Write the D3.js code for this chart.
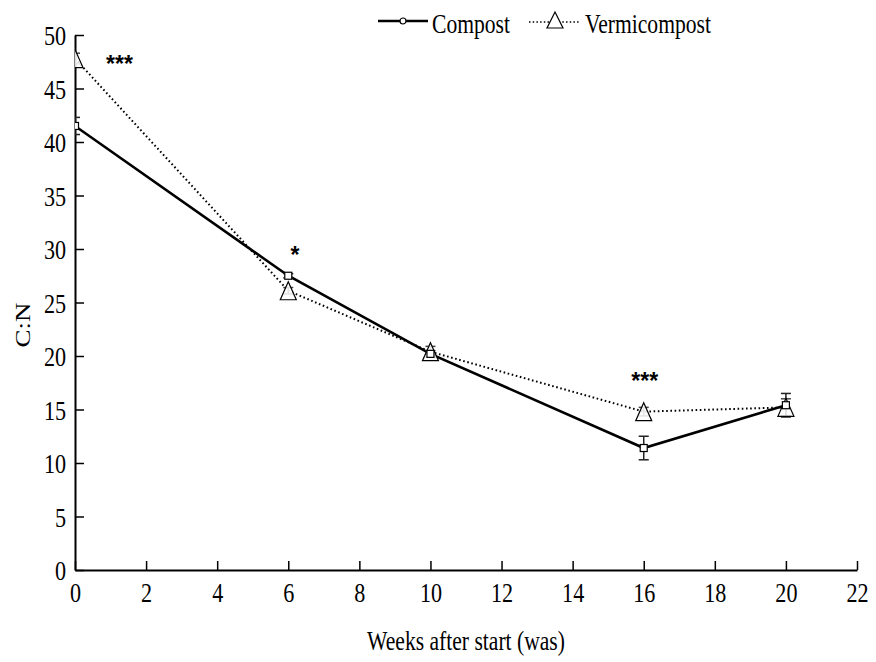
<!DOCTYPE html>
<html>
<head>
<meta charset="utf-8">
<script src="https://cdn.jsdelivr.net/npm/d3@7"></script>
<style>
  html, body { margin: 0; padding: 0; background: #fff; }
  svg { display: block; }
</style>
</head>
<body>
<svg id="chart" width="876" height="662"></svg>
<script>
// C:N ratio over time for two composting treatments
const weeks = [0, 6, 10, 16, 20];
const compost = [41.5, 27.5, 20.2, 11.4, 15.4];
const compostErr = [0.8, 0.2, 0.3, 1.1, 1.1];
const vermicompost = [47.8, 26.1, 20.4, 14.8, 15.2];
const vermicompostErr = [0.5, 0.3, 0.5, 0.4, 0.8];
const xTicks = [0, 2, 4, 6, 8, 10, 12, 14, 16, 18, 20, 22];
const yTicks = [0, 5, 10, 15, 20, 25, 30, 35, 40, 45, 50];
// significance marks: position (week, value) and label
const sigWeeks = [1.25, 6.19, 16.03];
const sigValues = [46.5, 28.7, 16.9];
const sigLabels = ["***", "*", "***"];

const svg = d3.select("#chart");
const plotLeft = 75, plotRight = 857, plotTop = 35, plotBottom = 570;
const font = "'Liberation Serif', 'Times New Roman', serif";
const squeeze = 0.79;
const tickFont = 28;

const x = d3.scaleLinear().domain([0, 22]).range([plotLeft, plotRight]);
const y = d3.scaleLinear().domain([0, 50]).range([plotBottom, plotTop]);

svg.append("defs").append("clipPath").attr("id", "plot")
  .append("rect").attr("x", plotLeft).attr("y", plotTop - 20)
  .attr("width", plotRight - plotLeft + 20).attr("height", plotBottom - plotTop + 20);

// axes with inward ticks
const xAxis = svg.append("g").attr("transform", `translate(0,${plotBottom})`)
  .call(d3.axisBottom(x).tickValues(xTicks).tickSizeInner(-9).tickSizeOuter(0).tickPadding(12));
const yAxis = svg.append("g").attr("transform", `translate(${plotLeft},0)`)
  .call(d3.axisLeft(y).tickValues(yTicks).tickSizeInner(-9).tickSizeOuter(0).tickPadding(9));

[xAxis, yAxis].forEach(g => {
  g.select(".domain").attr("stroke", "#000").attr("stroke-width", 2);
  g.selectAll(".tick line").attr("stroke", "#000").attr("stroke-width", 1.5);
  g.selectAll(".tick text").attr("fill", "#000")
    .style("font-family", font).style("font-size", tickFont + "px");
});
xAxis.selectAll(".tick text").attr("dy", "0.71em").attr("transform", `scale(${squeeze},1)`);
yAxis.selectAll(".tick text").attr("x", -9 / squeeze).attr("dy", "0.34em")
  .attr("transform", `scale(${squeeze},1)`);

// axis titles
svg.append("text").attr("transform", `translate(466,650) scale(0.8,1)`)
  .attr("text-anchor", "middle").style("font-family", font).style("font-size", "27px")
  .text("Weeks after start (was)");
svg.append("text").attr("transform", `translate(30,325) rotate(-90) scale(1,0.8)`)
  .attr("text-anchor", "middle").style("font-family", font).style("font-size", "27px")
  .text("C:N");

const plot = svg.append("g").attr("clip-path", "url(#plot)");

const line = d3.line().x((d, i) => x(weeks[i])).y(d => y(d));

// lines
plot.append("path").datum(vermicompost).attr("d", line)
  .attr("fill", "none").attr("stroke", "#000").attr("stroke-width", 2)
  .attr("stroke-dasharray", "1.6,2.6");
plot.append("path").datum(compost).attr("d", line)
  .attr("fill", "none").attr("stroke", "#000").attr("stroke-width", 2.6);

// error bars
function errorBars(vals, errs, color) {
  const g = plot.append("g").attr("stroke", color).attr("stroke-width", 1.5);
  vals.forEach((v, i) => {
    const cx = x(weeks[i]);
    g.append("line").attr("x1", cx).attr("x2", cx).attr("y1", y(v - errs[i])).attr("y2", y(v + errs[i]));
    [v - errs[i], v + errs[i]].forEach(e => {
      g.append("line").attr("x1", cx - 5).attr("x2", cx + 5).attr("y1", y(e)).attr("y2", y(e));
    });
  });
}
errorBars(vermicompost, vermicompostErr, "#444");
errorBars(compost, compostErr, "#222");

// tall open triangle marker (width w, height h, centred)
function tallTriangle(w, h) {
  return {
    draw(ctx) {
      ctx.moveTo(0, -h / 2);
      ctx.lineTo(w / 2, h / 2);
      ctx.lineTo(-w / 2, h / 2);
      ctx.closePath();
    }
  };
}

// markers
const tri = d3.symbol().type(tallTriangle(16, 18));
plot.selectAll(".vtri").data(vermicompost).enter().append("path")
  .attr("transform", (d, i) => `translate(${x(weeks[i])},${y(d)})`)
  .attr("d", tri).attr("fill", "#fff").attr("fill-opacity", 0.85)
  .attr("stroke", "#000").attr("stroke-width", 1.2);
plot.selectAll(".csq").data(compost).enter().append("rect")
  .attr("x", (d, i) => x(weeks[i]) - 3.5).attr("y", d => y(d) - 3.5)
  .attr("width", 7).attr("height", 7)
  .attr("fill", "#fff").attr("stroke", "#000").attr("stroke-width", 1.2);

// significance stars
svg.selectAll(".sig").data(sigLabels).enter().append("text")
  .attr("x", (d, i) => x(sigWeeks[i])).attr("y", (d, i) => y(sigValues[i]))
  .attr("text-anchor", "middle")
  .style("font-family", "'Liberation Sans', Arial, sans-serif")
  .style("font-size", "23px").style("font-weight", "bold")
  .text(d => d);

// legend
const lg = svg.append("g").attr("transform", "translate(378,21)");
lg.append("line").attr("x1", 0).attr("x2", 50).attr("y1", 0).attr("y2", 0)
  .attr("stroke", "#000").attr("stroke-width", 2.4);
lg.append("circle").attr("cx", 25).attr("cy", 0).attr("r", 3)
  .attr("fill", "#fff").attr("stroke", "#000").attr("stroke-width", 1.2);
lg.append("text").attr("transform", `translate(54,12) scale(0.8,1)`)
  .style("font-family", font).style("font-size", "27px").text("Compost");
lg.append("line").attr("x1", 151).attr("x2", 202).attr("y1", 1).attr("y2", 1)
  .attr("stroke", "#000").attr("stroke-width", 1.6).attr("stroke-dasharray", "1.5,2.2");
lg.append("path").attr("transform", "translate(177,-1)")
  .attr("d", d3.symbol().type(tallTriangle(16, 16)))
  .attr("fill", "#fff").attr("stroke", "#000").attr("stroke-width", 1.2);
lg.append("text").attr("transform", `translate(207,12) scale(0.8,1)`)
  .style("font-family", font).style("font-size", "27px").text("Vermicompost");
</script>
</body>
</html>
